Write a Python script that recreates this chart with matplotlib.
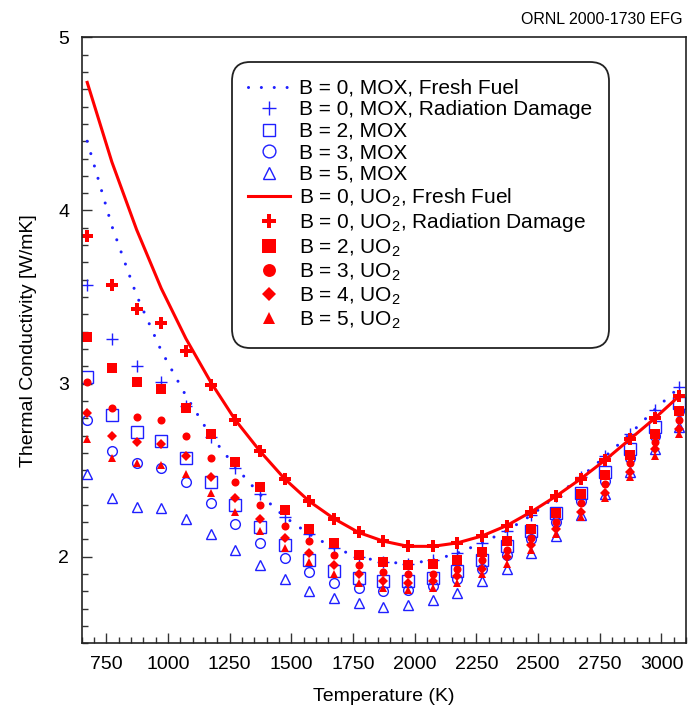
import numpy as np
import matplotlib
matplotlib.use("Agg")
import matplotlib.pyplot as plt
from matplotlib.ticker import MultipleLocator

plt.rcParams['font.family'] = ['Liberation Sans', 'DejaVu Sans']
plt.rcParams['mathtext.fontset'] = 'custom'
plt.rcParams['mathtext.rm'] = 'Liberation Sans'

temps = [673, 773, 873, 973, 1073, 1173, 1273, 1373, 1473, 1573, 1673, 1773, 1873,
         1973, 2073, 2173, 2273, 2373, 2473, 2573, 2673, 2773, 2873, 2973, 3073]

# UO2
uo2_fresh = [4.74, 4.28, 3.89, 3.55, 3.26, 3.01, 2.79, 2.61, 2.45, 2.32, 2.22, 2.14, 2.09,
             2.06, 2.06, 2.08, 2.12, 2.18, 2.26, 2.35, 2.45, 2.56, 2.68, 2.80, 2.93]
uo2_rad = [3.85, 3.57, 3.43, 3.35, 3.19, 2.99, 2.79, 2.61, 2.45, 2.32, 2.22, 2.14, 2.09,
           2.06, 2.06, 2.08, 2.12, 2.18, 2.26, 2.35, 2.45, 2.56, 2.68, 2.80, 2.93]
uo2_b2 = [3.27, 3.09, 3.01, 2.97, 2.86, 2.71, 2.55, 2.40, 2.27, 2.16, 2.08, 2.01, 1.97,
          1.95, 1.96, 1.98, 2.03, 2.09, 2.16, 2.25, 2.36, 2.47, 2.59, 2.71, 2.84]
uo2_b3 = [3.01, 2.86, 2.81, 2.79, 2.70, 2.57, 2.43, 2.30, 2.18, 2.09, 2.01, 1.95, 1.91,
          1.90, 1.90, 1.93, 1.98, 2.04, 2.11, 2.20, 2.31, 2.42, 2.54, 2.66, 2.79]
uo2_b4 = [2.83, 2.70, 2.66, 2.65, 2.58, 2.46, 2.34, 2.22, 2.11, 2.02, 1.95, 1.90, 1.86,
          1.85, 1.86, 1.89, 1.93, 2.00, 2.07, 2.16, 2.26, 2.37, 2.49, 2.62, 2.74]
uo2_b5 = [2.68, 2.57, 2.54, 2.53, 2.48, 2.37, 2.26, 2.15, 2.05, 1.97, 1.90, 1.85, 1.82,
          1.81, 1.82, 1.85, 1.90, 1.96, 2.04, 2.13, 2.23, 2.34, 2.46, 2.58, 2.71]

# MOX
mox_fresh = [4.40, 3.91, 3.51, 3.19, 2.93, 2.70, 2.52, 2.36, 2.23, 2.13, 2.05, 2.00, 1.97,
             1.96, 1.98, 2.02, 2.08, 2.15, 2.24, 2.35, 2.46, 2.58, 2.71, 2.85, 2.98]
mox_rad = [3.57, 3.26, 3.10, 3.01, 2.87, 2.69, 2.51, 2.36, 2.23, 2.13, 2.05, 2.00, 1.97,
           1.96, 1.98, 2.02, 2.08, 2.15, 2.24, 2.35, 2.46, 2.58, 2.71, 2.85, 2.98]
mox_b2 = [3.04, 2.82, 2.72, 2.67, 2.57, 2.43, 2.30, 2.17, 2.07, 1.98, 1.92, 1.88, 1.86,
          1.86, 1.88, 1.92, 1.98, 2.06, 2.15, 2.25, 2.37, 2.49, 2.62, 2.75, 2.89]
mox_b3 = [2.79, 2.61, 2.54, 2.51, 2.43, 2.31, 2.19, 2.08, 1.99, 1.91, 1.85, 1.82, 1.80,
          1.81, 1.83, 1.87, 1.93, 2.01, 2.10, 2.20, 2.32, 2.44, 2.57, 2.70, 2.84]
mox_b5 = [2.48, 2.34, 2.29, 2.28, 2.22, 2.13, 2.04, 1.95, 1.87, 1.80, 1.76, 1.73, 1.71,
          1.72, 1.75, 1.79, 1.86, 1.93, 2.02, 2.12, 2.24, 2.36, 2.49, 2.62, 2.75]

blue = '#1f1fff'
red = '#ff0000'

fig = plt.figure(figsize=(6.91, 7.12), dpi=100)
ax = fig.add_axes([0.118, 0.0965, 0.875, 0.851])

ax.plot(temps, mox_fresh, color=blue, lw=2.2, linestyle=(0, (0.01, 4.2)),
        dash_capstyle='round', label='B = 0, MOX, Fresh Fuel')
ax.plot(temps, mox_rad, '+', color=blue, ms=8.5, mew=1.0, ls='none',
        label='B = 0, MOX, Radiation Damage')
ax.plot(temps, mox_b2, 's', color=blue, mfc='none', ms=8.0, mew=1.0, ls='none',
        label='B = 2, MOX')
ax.plot(temps, mox_b3, 'o', color=blue, mfc='none', ms=7.0, mew=1.0, ls='none',
        label='B = 3, MOX')
ax.plot(temps, mox_b5, '^', color=blue, mfc='none', ms=6.8, mew=1.0, ls='none',
        label='B = 5, MOX')

ax.plot(temps, uo2_fresh, '-', color=red, lw=2.2, label='B = 0, UO$_2$, Fresh Fuel')
ax.plot(temps, uo2_rad, 'P', color=red, ms=8.0, mew=0, ls='none',
        label='B = 0, UO$_2$, Radiation Damage')
ax.plot(temps, uo2_b2, 's', color=red, ms=6.5, mew=0, ls='none', label='B = 2, UO$_2$')
ax.plot(temps, uo2_b3, 'o', color=red, ms=5.8, mew=0, ls='none', label='B = 3, UO$_2$')
ax.plot(temps, uo2_b4, 'D', color=red, ms=4.6, mew=0, ls='none', label='B = 4, UO$_2$')
ax.plot(temps, uo2_b5, '^', color=red, ms=6.0, mew=0, ls='none', label='B = 5, UO$_2$')

ax.set_xlim(650, 3100)
ax.set_ylim(1.5, 5)
ax.set_xticks([750, 1000, 1250, 1500, 1750, 2000, 2250, 2500, 2750, 3000])
ax.xaxis.set_minor_locator(MultipleLocator(50))
ax.set_yticks([2, 3, 4, 5])
ax.yaxis.set_minor_locator(MultipleLocator(0.1))
ax.tick_params(which='both', direction='in', labelsize=14, width=1.0, color='#333333')
ax.tick_params(which='major', length=7, pad=9)
ax.tick_params(which='minor', length=4)
for s in ax.spines.values():
    s.set_linewidth(1.2)
    s.set_color('#222222')

ax.set_xlabel('Temperature (K)', fontsize=14, labelpad=11)
ax.set_ylabel('Thermal Conductivity [W/mK]', fontsize=14, labelpad=15)

leg = ax.legend(loc='upper right', bbox_to_anchor=(0.8726, 0.959), borderaxespad=0,
                fontsize=15, frameon=True, fancybox=True, edgecolor='#222222',
                framealpha=1, handlelength=2.0, handletextpad=0.45, labelspacing=0.12,
                borderpad=0.8, numpoints=1)
leg.get_frame().set_linewidth(1.3)
leg.get_frame().set_boxstyle('round,pad=0,rounding_size=0.9')

# legend symbols are drawn larger than the plotted ones
leg_sizes = [None, 10.5, 9.2, 9.2, 8.2, None, 10.0, 9.8, 9.3, 6.8, 8.8]
for h, size in zip(leg.legend_handles, leg_sizes):
    if size is not None:
        h.set_markersize(size)

fig.text(0.988, 0.972, 'ORNL 2000-1730 EFG', ha='right', va='center', fontsize=11.5)

fig.savefig('out.png', dpi=100)
